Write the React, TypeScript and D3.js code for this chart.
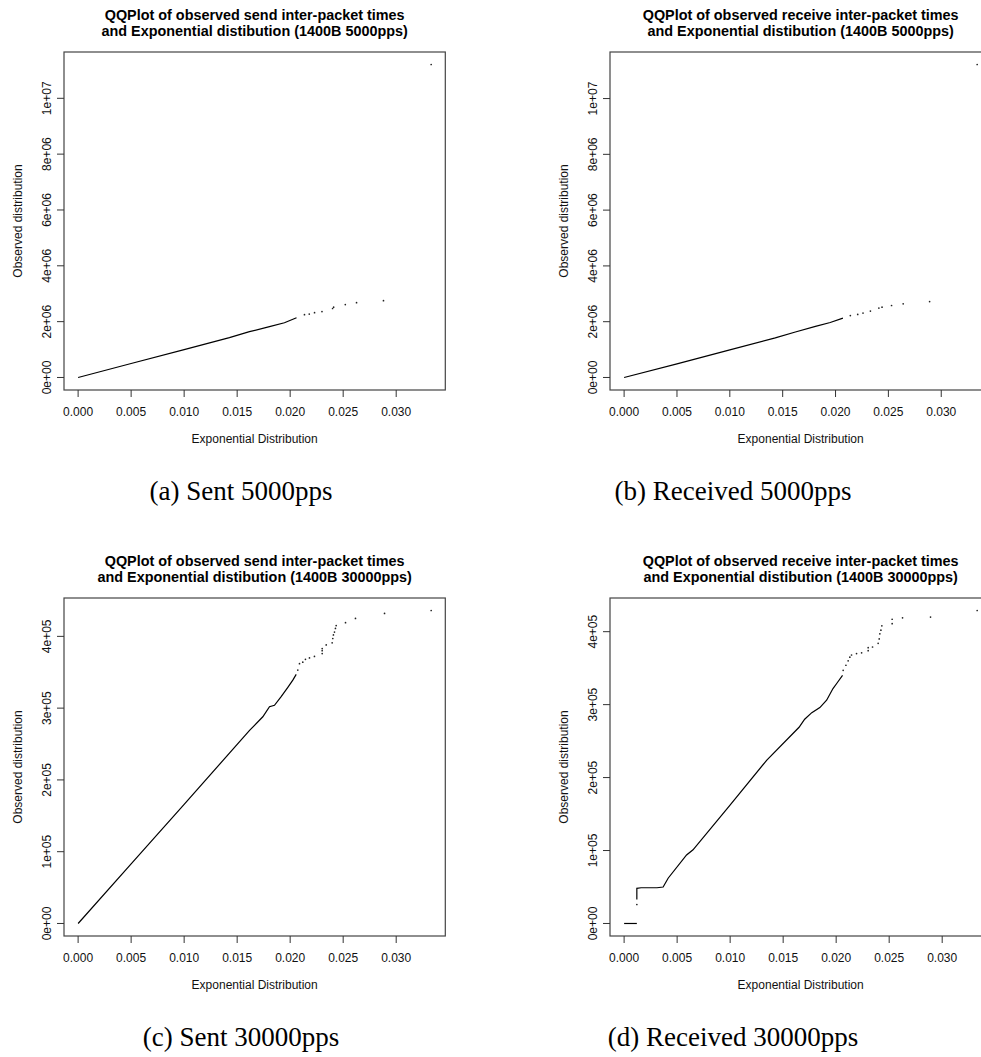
import React from "react";
import * as d3 from "d3";

// exponential quantiles vs observed inter-packet times
// dense part of each curve is drawn as a line, the sparse tail as dots

const xTicks = [0, 0.005, 0.01, 0.015, 0.02, 0.025, 0.03];
const yTicks5000 = [0, 2e6, 4e6, 6e6, 8e6, 1e7];
const yTicks30000 = [0, 1e5, 2e5, 3e5, 4e5];

const sent5000Line: [number, number][][] = [
  [
    [0, 0], [0.005, 0.5e6], [0.01, 1.0e6], [0.01427, 1.43e6], [0.01616, 1.64e6],
    [0.01805, 1.82e6], [0.01946, 1.96e6], [0.0206, 2.14e6],
  ],
];
const sent5000Tail: [number, number][] = [
  [0.02135, 2.25e6], [0.0218, 2.27e6], [0.0223, 2.32e6], [0.023, 2.36e6],
  [0.024, 2.47e6], [0.0241, 2.52e6], [0.0252, 2.61e6], [0.02626, 2.68e6],
  [0.0288, 2.75e6], [0.0333, 11.21e6],
];

const recv5000Line: [number, number][][] = [
  [
    [0, 0], [0.005, 0.49e6], [0.01, 0.99e6], [0.0143, 1.42e6], [0.0162, 1.63e6],
    [0.0181, 1.83e6], [0.0195, 1.97e6], [0.0207, 2.13e6],
  ],
];
const recv5000Tail: [number, number][] = [
  [0.0214, 2.22e6], [0.0221, 2.26e6], [0.0226, 2.31e6], [0.0233, 2.38e6],
  [0.0241, 2.49e6], [0.0244, 2.52e6], [0.0253, 2.58e6], [0.0264, 2.64e6],
  [0.0289, 2.72e6], [0.0334, 11.22e6],
];

const sent30000Line: [number, number][][] = [
  [
    [0, 0], [0.005, 0.83e5], [0.01, 1.66e5], [0.01617, 2.69e5], [0.01742, 2.88e5],
    [0.01805, 3.02e5], [0.01852, 3.04e5], [0.01915, 3.16e5], [0.01978, 3.29e5],
    [0.02025, 3.39e5], [0.02057, 3.47e5],
  ],
];
const sent30000Tail: [number, number][] = [
  [0.02072, 3.53e5], [0.02088, 3.62e5], [0.02119, 3.64e5], [0.02144, 3.68e5],
  [0.02182, 3.7e5], [0.02229, 3.72e5], [0.02302, 3.76e5], [0.02302, 3.8e5],
  [0.02302, 3.83e5], [0.0234, 3.88e5], [0.02396, 3.91e5], [0.02402, 3.97e5],
  [0.02408, 4.02e5], [0.02418, 4.06e5], [0.02427, 4.11e5], [0.02434, 4.15e5],
  [0.02522, 4.19e5], [0.02616, 4.25e5], [0.0289, 4.32e5], [0.0333, 4.36e5],
];

const recv30000Line: [number, number][][] = [
  [[0, 0], [0.0012, 0]],
  [
    [0.0012, 3.3e4], [0.0012, 4.82e4], [0.0016, 4.9e4], [0.0031, 4.9e4],
    [0.00368, 5.0e4], [0.00415, 6.2e4], [0.00589, 9.4e4], [0.0065, 1.01e5],
    [0.00997, 1.62e5], [0.01346, 2.24e5], [0.0165, 2.69e5], [0.01703, 2.8e5],
    [0.0177, 2.89e5], [0.01846, 2.96e5], [0.0191, 3.06e5], [0.0197, 3.22e5],
    [0.0201, 3.3e5], [0.0206, 3.4e5],
  ],
];
const recv30000Tail: [number, number][] = [
  [0.0012, 2.6e4],
  [0.02066, 3.47e5], [0.02092, 3.54e5], [0.02113, 3.6e5], [0.02129, 3.65e5],
  [0.02145, 3.68e5], [0.02192, 3.7e5], [0.0224, 3.71e5], [0.02302, 3.74e5],
  [0.02302, 3.78e5], [0.02343, 3.79e5], [0.02396, 3.84e5], [0.02406, 3.9e5],
  [0.02412, 3.97e5], [0.02422, 4.02e5], [0.02431, 4.08e5], [0.02528, 4.11e5],
  [0.02528, 4.17e5], [0.02626, 4.19e5], [0.0289, 4.2e5], [0.0333, 4.29e5],
];

const SANS = "'Liberation Sans', Arial, Helvetica, sans-serif";
const SERIF = "'Liberation Serif', 'Times New Roman', serif";

// R style exponent labels: 2e+06
const fmtExp = (v: number) => {
  const [m, e] = v.toExponential(0).split("e");
  return m + "e" + e[0] + e.slice(1).padStart(2, "0");
};
const fmtX = d3.format(".3f");

// padded range like R's default axis extension (4%)
const padded = (vals: number[]) => {
  const [lo, hi] = d3.extent(vals) as [number, number];
  const p = (hi - lo) * 0.04;
  return [lo - p, hi + p];
};

type PanelProps = {
  dx: number;
  dy: number;
  title: string[];
  lines: [number, number][][];
  tail: [number, number][];
  yTicks: number[];
};

function Panel({ dx, dy, title, lines, tail, yTicks }: PanelProps) {
  const left = 64 + dx,
    right = 445.3 + dx,
    top = 52 + dy,
    bottom = 390 + dy;

  const all = lines.flat().concat(tail);
  const x = d3.scaleLinear().domain(padded(all.map((d) => d[0]))).range([left, right]);
  const y = d3.scaleLinear().domain(padded(all.map((d) => d[1]))).range([bottom, top]);

  const line = d3
    .line<[number, number]>()
    .x((d) => x(d[0]))
    .y((d) => y(d[1]));

  const cx = (left + right) / 2;
  const cy = (top + bottom) / 2;

  return (
    <g>
      <text x={cx} y={19.5 + dy} textAnchor="middle" fontFamily={SANS} fontWeight="bold" fontSize={14.4}>
        {title[0]}
      </text>
      <text x={cx} y={36 + dy} textAnchor="middle" fontFamily={SANS} fontWeight="bold" fontSize={14.4}>
        {title[1]}
      </text>

      {lines.map((seg, i) => (
        <path key={i} d={line(seg) || ""} fill="none" stroke="#000" strokeWidth={1.2} />
      ))}
      {tail.map((d, i) => (
        <circle key={i} cx={x(d[0])} cy={y(d[1])} r={0.85} fill="#222" />
      ))}

      <rect x={left} y={top} width={right - left} height={bottom - top} fill="none" stroke="#444" strokeWidth={1.2} />

      {xTicks.map((t) => (
        <g key={t}>
          <line x1={x(t)} x2={x(t)} y1={bottom} y2={bottom + 7} stroke="#333" />
          <text x={x(t)} y={416 + dy} textAnchor="middle" fontFamily={SANS} fontSize={12} fill="#111">
            {fmtX(t)}
          </text>
        </g>
      ))}
      <text x={cx} y={443 + dy} textAnchor="middle" fontFamily={SANS} fontSize={12} fill="#111">
        Exponential Distribution
      </text>

      {yTicks.map((t) => (
        <g key={t}>
          <line x1={left - 7} x2={left} y1={y(t)} y2={y(t)} stroke="#333" />
          <text
            transform={`translate(${50.5 + dx},${y(t)}) rotate(-90)`}
            textAnchor="middle"
            fontFamily={SANS}
            fontSize={12}
            fill="#111"
          >
            {fmtExp(t)}
          </text>
        </g>
      ))}
      <text
        transform={`translate(${22 + dx},${cy}) rotate(-90)`}
        textAnchor="middle"
        fontFamily={SANS}
        fontSize={12}
        fill="#111"
      >
        Observed distribution
      </text>
    </g>
  );
}

export default function App() {
  const captions = [
    { text: "(a) Sent 5000pps", x: 241, y: 500 },
    { text: "(b) Received 5000pps", x: 733, y: 500 },
    { text: "(c) Sent 30000pps", x: 241, y: 1046 },
    { text: "(d) Received 30000pps", x: 733, y: 1046 },
  ];
  return (
    <svg
      width={981}
      height={1057}
      style={{ position: "absolute", left: 0, top: 0, background: "#fff" }}
    >
      <rect width={981} height={1057} fill="#fff" />
      <Panel
        dx={0}
        dy={0}
        title={["QQPlot of observed send inter-packet times", "and Exponential distibution (1400B 5000pps)"]}
        lines={sent5000Line}
        tail={sent5000Tail}
        yTicks={yTicks5000}
      />
      <Panel
        dx={546}
        dy={0}
        title={["QQPlot of observed receive inter-packet times", "and Exponential distibution (1400B 5000pps)"]}
        lines={recv5000Line}
        tail={recv5000Tail}
        yTicks={yTicks5000}
      />
      <Panel
        dx={0}
        dy={546}
        title={["QQPlot of observed send inter-packet times", "and Exponential distibution (1400B 30000pps)"]}
        lines={sent30000Line}
        tail={sent30000Tail}
        yTicks={yTicks30000}
      />
      <Panel
        dx={546}
        dy={546}
        title={["QQPlot of observed receive inter-packet times", "and Exponential distibution (1400B 30000pps)"]}
        lines={recv30000Line}
        tail={recv30000Tail}
        yTicks={yTicks30000}
      />
      {captions.map((c) => (
        <text key={c.text} x={c.x} y={c.y} textAnchor="middle" fontFamily={SERIF} fontSize={27} fill="#000">
          {c.text}
        </text>
      ))}
    </svg>
  );
}
